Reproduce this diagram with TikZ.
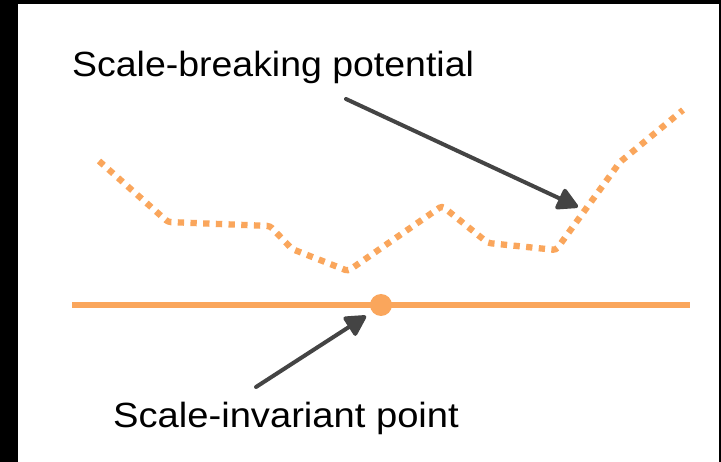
\documentclass[tikz,border=0pt]{standalone}
\usepackage{fontspec}
\setmainfont{Liberation Sans}
\usetikzlibrary{arrows.meta}
\definecolor{potorange}{RGB}{250,166,92}
\definecolor{arrowgray}{RGB}{68,68,68}
\tikzset{
  lbltext/.style={inner sep=0pt, anchor=base west, font=\fontsize{35}{42}\selectfont},
  pointer/.style={draw=arrowgray, line width=4pt, line cap=round,
    -{Triangle[length=23pt,width=24pt,round]}, fill=arrowgray},
  potential/.style={draw=potorange, line width=6.3pt, dash pattern=on 6.3pt off 6.4pt, rounded corners=3pt},
  vacuum/.style={draw=potorange, line width=6.5pt},
}
\begin{document}
\begin{tikzpicture}[x=1pt,y=-1pt]
  \useasboundingbox (0,0) rectangle (721,462);
  \fill[black] (0,0) rectangle (721,462);
  \fill[white] (18,4) rectangle (719,462);
  % potential
  \draw[potential] (99,161) -- (168,222) -- (270,226) -- (292,249) -- (348,271)
     -- (442,206) -- (488,243) -- (556,250) -- (620,162) -- (683,110);
  % scale-invariant line
  \coordinate (L) at (72,305);
  \coordinate (R) at (690,305);
  \draw[vacuum] (L) -- (R);
  \node[circle, fill=potorange, minimum size=22pt, inner sep=0pt] (pt) at (381,305) {};
  % labels
  \node[lbltext] (top) at (72,77) {\scalebox{1.07}[1]{Scale-breaking potential}};
  \node[lbltext] (bot) at (113,428) {\scalebox{1.09}[1]{Scale-invariant point}};
  % arrows
  \coordinate (t1) at (346,99);
  \coordinate (h1) at (578,207);
  \coordinate (t2) at (256,387);
  \coordinate (h2) at (366,316);
  \draw[pointer] (t1) -- (h1);
  \draw[pointer] (t2) -- (h2);
\end{tikzpicture}
\end{document}
